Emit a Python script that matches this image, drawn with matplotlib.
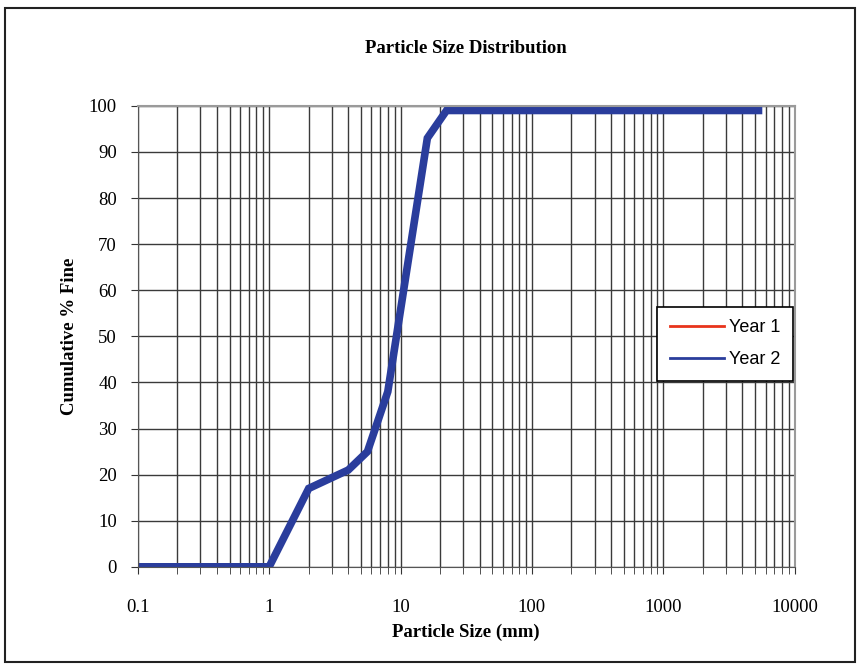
import matplotlib.pyplot as plt
import matplotlib.patches as patches
from matplotlib.ticker import LogLocator, NullFormatter, FixedLocator, FixedFormatter

# sieve data
size_mm = [0.1, 1, 2, 4, 5.6, 8, 16, 22.4, 5300]
year1 = [0, 0, 17, 21, 25, 38, 93, 99, 99]
year2 = [0, 0, 17, 21, 25, 38, 93, 99, 99]

x_ticks = [0.1, 1, 10, 100, 1000, 10000]
x_tick_labels = ['0.1', '1', '10', '100', '1000', '10000']
y_ticks = list(range(0, 101, 10))

serif = 'Liberation Serif'
sans = 'Liberation Sans'

fig = plt.figure(figsize=(8.61, 6.70), dpi=100)
ax = fig.add_axes([0.160, 0.154, 0.763, 0.688])

ax.plot(size_mm, year1, color='#e8341c', lw=2, label='Year 1')
ax.plot(size_mm, year2, color='#2a3d9c', lw=5.5, label='Year 2', solid_joinstyle='miter')

ax.set_xscale('log')
ax.set_xlim(0.1, 10000)
ax.set_ylim(0, 100)
ax.xaxis.set_major_locator(FixedLocator(x_ticks))
ax.xaxis.set_major_formatter(FixedFormatter(x_tick_labels))
ax.xaxis.set_minor_locator(LogLocator(base=10, subs=range(2, 10), numticks=20))
ax.xaxis.set_minor_formatter(NullFormatter())
ax.set_yticks(y_ticks)

ax.grid(True, which='both', axis='x', color='#3a3a3a', lw=1)
ax.grid(True, which='major', axis='y', color='#3a3a3a', lw=1)
ax.set_axisbelow(True)

ax.tick_params(axis='both', which='both', direction='out', length=5, color='#333333')
ax.tick_params(axis='x', which='major', pad=18)
ax.tick_params(axis='y', which='major', pad=10)
for lbl in ax.get_xticklabels() + ax.get_yticklabels():
    lbl.set_fontfamily(serif)
    lbl.set_fontsize(13.5)

for side in ['top', 'right']:
    ax.spines[side].set_color('#9a9a9a')
    ax.spines[side].set_linewidth(1.5)
ax.spines['left'].set_color('#555555')
ax.spines['bottom'].set_color('#555555')

ax.set_title('Particle Size Distribution', fontfamily=serif, fontweight='bold',
             fontsize=13.5, pad=38)
ax.set_xlabel('Particle Size (mm)', fontfamily=serif, fontweight='bold', fontsize=13.5, labelpad=6)
ax.set_ylabel('Cumulative % Fine', fontfamily=serif, fontweight='bold', fontsize=13.5, labelpad=8)

leg = ax.legend(loc='center right', bbox_to_anchor=(0.998, 0.484), borderaxespad=0,
                fancybox=False, framealpha=1, edgecolor='black', handlelength=3.0,
                borderpad=0.7, labelspacing=0.8, handletextpad=0.3,
                prop={'family': sans, 'size': 13})
leg.get_frame().set_linewidth(1.2)
for line in leg.get_lines():
    line.set_linewidth(2)

# outer frame around whole chart
fig.patches.append(patches.Rectangle((5 / 861, 8 / 670), 850 / 861, 654 / 670,
                                     transform=fig.transFigure, fill=False,
                                     edgecolor='#222222', lw=1.5))

fig.savefig('out.png', dpi=100)
